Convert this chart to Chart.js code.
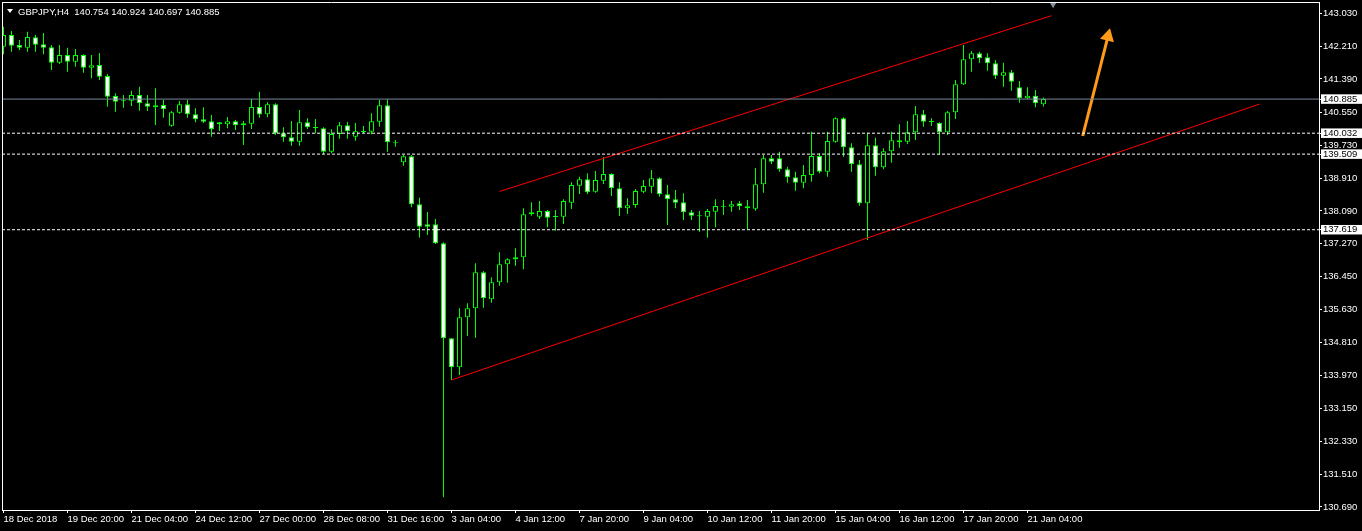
<!DOCTYPE html>
<html>
<head>
<meta charset="utf-8">
<script src="https://cdn.jsdelivr.net/npm/chart.js@4.4.1/dist/chart.umd.min.js"></script>
<style>
html, body { margin: 0; padding: 0; background: #000; }
#wrap { position: relative; width: 1362px; height: 531px; }
#title { position: absolute; left: 18px; top: 6px; color: #fff; white-space: pre;
         font: 9.5px 'Liberation Sans', sans-serif; line-height: 11px; }
#tri { position: absolute; left: 7px; top: 9px; width: 0; height: 0;
       border-left: 3px solid transparent; border-right: 3px solid transparent; border-top: 4px solid #fff; }
</style>
</head>
<body>
<div id="wrap">
  <canvas id="chart" width="1362" height="531"></canvas>
  <div id="tri"></div>
  <div id="title"></div>
</div>
<script>
const symbol = 'GBPJPY';
const period = 'H4';

// H4 candles, oldest first
const opens = [
  142.195, 142.487, 142.237, 142.170, 142.430, 142.255, 142.180, 141.795, 141.987, 141.820,
  141.987, 141.670, 141.737, 141.462, 140.962, 140.830, 140.845, 140.987, 140.780, 140.730,
  140.737, 140.220, 140.545, 140.755, 140.505, 140.380, 140.330, 140.305, 140.255, 140.330,
  140.280, 140.270, 140.687, 140.505, 140.755, 140.030, 139.930, 139.820, 140.305, 140.180,
  140.155, 139.570, 140.012, 140.230, 139.945, 140.080, 140.070, 140.320, 140.730, 139.787,
  139.305, 139.455, 138.255, 137.755, 137.755, 137.280, 134.905, 134.180, 135.430, 135.655,
  136.555, 135.880, 136.305, 136.755, 136.880, 136.930, 138.005, 137.945, 138.087, 137.945,
  137.945, 138.295, 138.720, 138.880, 138.570, 138.845, 139.012, 138.655, 138.155, 138.237,
  138.570, 138.695, 138.905, 138.505, 138.380, 138.305, 138.055, 137.970, 137.945, 138.070,
  138.205, 138.195, 138.280, 138.205, 138.145, 138.755, 139.405, 139.405, 139.130, 138.930,
  138.795, 138.987, 139.462, 139.070, 139.820, 140.405, 139.680, 139.255, 138.280, 139.730,
  139.180, 139.580, 139.855, 139.820, 140.055, 140.505, 140.330, 140.295, 140.055, 140.555,
  141.255, 141.880, 142.030, 141.930, 141.780, 141.470, 141.555, 141.180, 140.905, 140.970,
  140.754
];
const highs = [
  142.695, 142.587, 142.362, 142.570, 142.487, 142.537, 142.237, 142.237, 142.170, 142.137,
  142.005, 141.987, 142.037, 141.512, 141.030, 140.987, 141.095, 141.195, 140.987, 141.155,
  140.862, 140.587, 140.837, 140.862, 140.655, 140.680, 140.487, 140.312, 140.437, 140.362,
  140.337, 140.887, 141.070, 140.805, 140.780, 140.180, 140.337, 140.612, 140.405, 140.387,
  140.180, 140.130, 140.312, 140.312, 140.287, 140.212, 140.530, 140.862, 140.880, 139.862,
  139.487, 139.487, 138.420, 138.062, 137.887, 137.305, 134.905, 135.655, 135.780, 136.780,
  136.587, 136.430, 137.055, 136.905, 137.155, 138.155, 138.305, 138.337, 138.112, 138.112,
  138.380, 138.805, 138.945, 139.030, 139.087, 139.430, 139.030, 138.805, 138.405, 138.637,
  138.862, 139.112, 138.930, 138.737, 138.612, 138.530, 138.112, 138.087, 138.137, 138.380,
  138.362, 138.337, 138.337, 138.362, 139.162, 139.487, 139.487, 139.570, 139.195, 139.070,
  139.237, 140.070, 139.530, 140.070, 140.430, 140.430, 139.780, 139.362, 140.045, 139.920,
  139.655, 140.070, 140.255, 140.337, 140.712, 140.612, 140.405, 140.305, 140.587, 141.362,
  142.237, 142.087, 142.070, 142.030, 141.862, 141.795, 141.612, 141.337, 141.180, 141.112,
  140.924
];
const lows = [
  142.005, 142.070, 142.112, 142.070, 142.070, 142.005, 141.612, 141.762, 141.570, 141.695,
  141.545, 141.405, 141.362, 140.695, 140.570, 140.670, 140.712, 140.595, 140.587, 140.237,
  140.420, 140.195, 140.520, 140.420, 140.305, 140.287, 139.945, 140.087, 140.155, 140.112,
  139.737, 140.137, 140.420, 140.430, 139.987, 139.820, 139.720, 139.720, 140.137, 140.030,
  139.505, 139.530, 139.895, 139.895, 139.845, 140.030, 140.005, 140.195, 139.570, 139.695,
  139.220, 138.180, 137.420, 137.487, 137.262, 130.930, 133.862, 133.987, 134.962, 134.920,
  135.670, 135.795, 136.220, 136.295, 136.720, 136.630, 137.970, 137.887, 137.680, 137.595,
  137.762, 138.137, 138.512, 138.512, 138.545, 138.762, 138.462, 137.962, 138.012, 138.170,
  138.530, 138.530, 138.445, 137.737, 138.155, 137.862, 137.862, 137.570, 137.420, 137.680,
  137.987, 138.070, 138.112, 137.630, 138.095, 138.545, 139.262, 139.070, 138.795, 138.595,
  138.655, 138.820, 139.030, 138.945, 139.795, 139.445, 139.070, 138.220, 137.362, 138.970,
  139.130, 139.295, 139.670, 139.762, 139.862, 140.195, 140.212, 139.487, 139.987, 140.387,
  141.237, 141.570, 141.795, 141.595, 141.387, 141.195, 141.095, 140.795, 140.880, 140.680,
  140.697
];
const closes = [
  142.487, 142.220, 142.170, 142.437, 142.245, 142.170, 141.795, 141.987, 141.820, 141.987,
  141.670, 141.730, 141.445, 140.945, 140.820, 140.845, 140.987, 140.780, 140.695, 140.680,
  140.630, 140.555, 140.755, 140.505, 140.380, 140.320, 140.130, 140.255, 140.330, 140.230,
  140.230, 140.687, 140.500, 140.755, 140.030, 139.930, 139.820, 140.305, 140.180, 140.162,
  139.570, 140.012, 140.230, 140.080, 140.080, 140.062, 140.330, 140.730, 139.805, 139.780,
  139.455, 138.255, 137.695, 137.695, 137.280, 134.905, 134.180, 135.430, 135.655, 136.555,
  135.905, 136.305, 136.755, 136.880, 136.930, 138.005, 138.055, 138.087, 137.920, 137.937,
  138.337, 138.737, 138.880, 138.555, 138.862, 139.012, 138.655, 138.155, 138.230, 138.587,
  138.712, 138.905, 138.505, 138.380, 138.295, 138.055, 137.970, 137.955, 138.087, 138.212,
  138.195, 138.255, 138.212, 138.155, 138.755, 139.405, 139.320, 139.130, 138.930, 138.795,
  138.987, 139.462, 139.070, 139.837, 140.405, 139.680, 139.255, 138.280, 139.730, 139.180,
  139.580, 139.855, 139.805, 140.055, 140.505, 140.320, 140.312, 140.055, 140.555, 141.255,
  141.880, 142.030, 141.905, 141.780, 141.470, 141.555, 141.320, 140.905, 140.970, 140.780,
  140.885
];

// time axis labels, one every 8 bars
const xTickIdx = [0, 8, 16, 24, 32, 40, 48, 56, 64, 72, 80, 88, 96, 104, 112, 120, 128];
const xTickLabels = [
  '18 Dec 2018', '19 Dec 20:00', '21 Dec 04:00', '24 Dec 12:00', '27 Dec 00:00', '28 Dec 08:00',
  '31 Dec 16:00', '3 Jan 04:00', '4 Jan 12:00', '7 Jan 20:00', '9 Jan 04:00', '10 Jan 12:00',
  '11 Jan 20:00', '15 Jan 04:00', '16 Jan 12:00', '17 Jan 20:00', '21 Jan 04:00'
];
const yTickVals = [143.030, 142.210, 141.390, 140.550, 139.730, 138.910, 138.090, 137.270,
                   136.450, 135.630, 134.810, 133.970, 133.150, 132.330, 131.510, 130.690];

// price levels drawn on the chart
const bidPrice = 140.885;
const dashedLevels = [140.032, 139.509, 137.619];
const channelTop = [{x: 62, y: 138.575}, {x: 131, y: 142.970}];
const channelBottom = [{x: 56, y: 133.862}, {x: 157, y: 140.760}];
const arrowShaft = [{x: 134.9, y: 139.962}, {x: 138.06, y: 142.453}];
const arrowHead = [{x: 138.06, y: 142.453}];
const shiftMark = [{x: 131.2, y: 143.254}];

// visible window (bar index / price)
const X_MIN = -0.1875, X_MAX = 164.4375;
const Y_MIN = 130.612, Y_MAX = 143.312;

const labelLevels = [bidPrice].concat(dashedLevels);
const isLevel = v => labelLevels.some(l => Math.abs(l - v) < 1e-6);

const last = opens.length - 1;
document.getElementById('title').textContent =
  `${symbol},${period}  ${opens[last].toFixed(3)} ${highs[last].toFixed(3)} ${lows[last].toFixed(3)} ${closes[last].toFixed(3)}`;

const bodies = opens.map((o, i) => ({x: i, y: [o, closes[i]]}));
const wicks = lows.map((l, i) => ({x: i, y: [l, highs[i]]}));
const hline = v => [{x: X_MIN, y: v}, {x: X_MAX, y: v}];

Chart.defaults.font.family = "'Liberation Sans', sans-serif";
Chart.defaults.font.size = 9.5;

const lineBase = {type: 'line', pointRadius: 0, borderWidth: 1, tension: 0, clip: 0, order: 0};

const datasets = [
  Object.assign({}, lineBase, {data: hline(bidPrice), borderColor: '#778899'}),
  ...dashedLevels.map(v => Object.assign({}, lineBase, {data: hline(v), borderColor: '#ffffff', borderDash: [3, 2]})),
  Object.assign({}, lineBase, {data: channelTop, borderColor: '#ff0000'}),
  Object.assign({}, lineBase, {data: channelBottom, borderColor: '#ff0000'}),
  Object.assign({}, lineBase, {data: arrowShaft, borderColor: '#ff9a1a', borderWidth: 3}),
  Object.assign({}, lineBase, {data: arrowHead, showLine: false, pointStyle: 'triangle', pointRadius: 8.3,
    pointRotation: 14, pointBackgroundColor: '#ff9a1a', pointBorderWidth: 0}),
  Object.assign({}, lineBase, {data: shiftMark, showLine: false, pointStyle: 'triangle', pointRadius: 4,
    pointRotation: 180, pointBackgroundColor: '#86909a', pointBorderWidth: 0}),
  {
    // candle bodies: white = bearish, black = bullish
    type: 'bar', data: bodies, order: 1, grouped: false, clip: 0,
    barThickness: 5, maxBarThickness: 5, inflateAmount: 0, minBarLength: 1,
    borderWidth: 1, borderColor: '#00ff00', borderSkipped: false,
    backgroundColor: ctx => closes[ctx.dataIndex] < opens[ctx.dataIndex] ? '#ffffff' : '#000000'
  },
  {
    // high-low wicks
    type: 'bar', data: wicks, order: 2, grouped: false, clip: 0,
    barThickness: 1, maxBarThickness: 1, inflateAmount: 0,
    borderWidth: 0, backgroundColor: '#00ff00'
  }
];

new Chart(document.getElementById('chart'), {
  type: 'bar',
  data: {datasets},
  options: {
    responsive: false,
    animation: false,
    devicePixelRatio: 1,
    events: [],
    layout: {padding: 0, autoPadding: false},
    plugins: {legend: {display: false}, tooltip: {enabled: false}, title: {display: false}},
    scales: {
      x: {
        type: 'linear', position: 'bottom', min: X_MIN, max: X_MAX, offset: false,
        afterBuildTicks: s => { s.ticks = xTickIdx.map(v => ({value: v})); },
        afterFit: s => { s.height = 21; s.paddingLeft = 0; s.paddingRight = 0; },
        ticks: {
          autoSkip: false, maxRotation: 0, minRotation: 0, align: 'start', padding: 2, color: '#ffffff',
          font: {size: 9.5, lineHeight: 1},
          callback: v => xTickLabels[xTickIdx.indexOf(v)]
        },
        grid: {offset: false, drawOnChartArea: false, drawTicks: true, tickLength: 3, color: '#ffffff'},
        border: {color: '#ffffff', width: 1, z: 1}
      },
      y: {
        type: 'linear', position: 'right', min: Y_MIN, max: Y_MAX,
        afterBuildTicks: s => { s.ticks = yTickVals.concat(labelLevels).map(v => ({value: v})); },
        afterFit: s => { s.width = 43; s.paddingTop = 0; s.paddingBottom = 0; },
        ticks: {
          autoSkip: false, padding: 1,
          color: ctx => isLevel(ctx.tick.value) ? '#000000' : '#ffffff',
          showLabelBackdrop: ctx => isLevel(ctx.tick.value),
          backdropColor: '#ffffff',
          backdropPadding: {top: 0, bottom: 0, left: 2, right: 8},
          font: {size: 9.5, lineHeight: 1},
          callback: v => v.toFixed(3)
        },
        grid: {drawOnChartArea: false, drawTicks: true, tickLength: 3, color: '#ffffff'},
        border: {color: '#ffffff', width: 1, z: 1}
      },
      xTop: {
        type: 'linear', position: 'top',
        ticks: {display: false}, grid: {display: false},
        border: {color: '#ffffff', width: 1, z: 1},
        afterFit: s => { s.height = 2; }
      },
      yLeft: {
        type: 'linear', position: 'left',
        ticks: {display: false}, grid: {display: false},
        border: {color: '#ffffff', width: 1, z: 1},
        afterFit: s => { s.width = 2; }
      }
    }
  }
});
</script>
</body>
</html>
